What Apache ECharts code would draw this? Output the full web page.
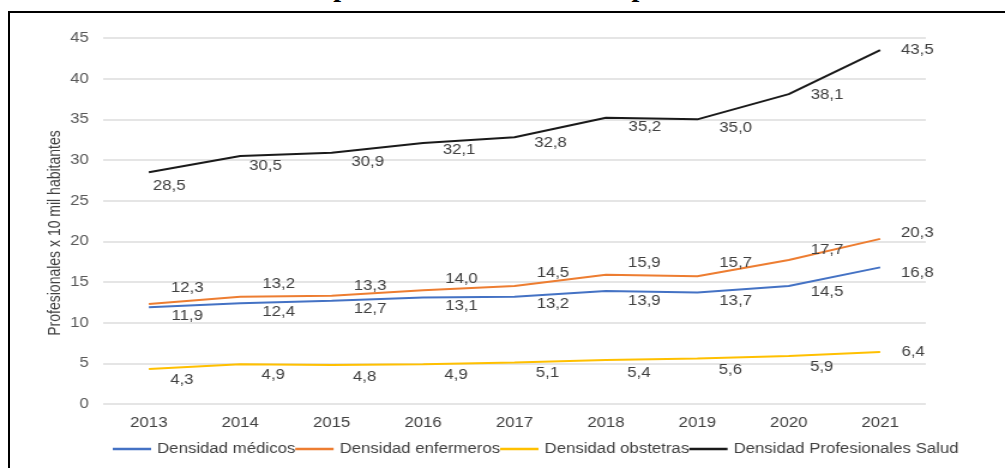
<!DOCTYPE html>
<html>
<head>
<meta charset="utf-8">
<script src="https://cdn.jsdelivr.net/npm/echarts@6/dist/echarts.min.js"></script>
<style>
  html, body { margin: 0; padding: 0; background: #fff; overflow: hidden; width: 1005px; height: 468px; }
  #titulo { position: absolute; left: 14px; top: -27px; font: bold 28px "Liberation Serif"; line-height: 28px; white-space: nowrap; color: #000; }
  #marco { position: absolute; left: 8px; top: 11px; width: 1100px; height: 600px; border-top: 2px solid #000; border-left: 2.5px solid #000; }
  /* el grafico original esta estirado en horizontal */
  #grafico { position: absolute; left: 0; top: 0; width: 838px; height: 468px; transform: scaleX(1.1993); transform-origin: 0 0; }
</style>
</head>
<body>
<div id="titulo">Gráfico N° 4. Densidad de profesionales de la salud por 10 mil habitantes</div>
<div id="marco"></div>
<div id="grafico"></div>
<script>
// datos
const anios = ['2013', '2014', '2015', '2016', '2017', '2018', '2019', '2020', '2021'];
const medicos = [11.9, 12.4, 12.7, 13.1, 13.2, 13.9, 13.7, 14.5, 16.8];
const enfermeros = [12.3, 13.2, 13.3, 14.0, 14.5, 15.9, 15.7, 17.7, 20.3];
const obstetras = [4.3, 4.9, 4.8, 4.9, 5.1, 5.4, 5.6, 5.9, 6.4];
const profesionales = [28.5, 30.5, 30.9, 32.1, 32.8, 35.2, 35.0, 38.1, 43.5];
const nombres = ['Densidad médicos', 'Densidad enfermeros', 'Densidad obstetras', 'Densidad Profesionales Salud'];

// desplazamiento de etiquetas respecto al punto (px sin estirar)
const desplaz = [
  { dx: [32, 32, 32, 32, 32, 32, 32, 32, 31], dy: [9, 9, 8, 9, 8, 10, 9, 6, 6] },
  { dx: [32, 32, 32, 32, 32, 32, 32, 32, 31], dy: [-16, -12, -10, -11, -13, -12, -13, -10, -6] },
  { dx: [27.5, 27.5, 27.5, 27.5, 27.5, 27.5, 27.5, 27.5, 27.5], dy: [11, 11, 12, 11, 11, 13, 12, 11, 0] },
  { dx: [17, 21, 30, 30, 30, 32.5, 32, 32, 31], dy: [14, 10, 9, 7, 6, 9, 9, 1, 0] }
];
const colores = ['#4472C4', '#ED7D31', '#FFC000', '#1a1a1a'];
const fuente = 'Liberation Sans';

function serie(i, valores) {
  return {
    name: nombres[i],
    type: 'line',
    symbol: 'circle',
    symbolSize: 0,
    lineStyle: { color: colores[i], width: 2 },
    itemStyle: { color: colores[i] },
    emphasis: { disabled: true },
    label: {
      show: true,
      position: 'inside',
      fontFamily: fuente,
      fontSize: 14,
      color: '#404040',
      formatter: p => p.value.toFixed(1).replace('.', ',')
    },
    data: valores.map((v, k) => ({ value: v, label: { offset: [desplaz[i].dx[k], desplaz[i].dy[k]] } }))
  };
}

const myChart = echarts.init(document.getElementById('grafico'));
myChart.setOption({
  animation: false,
  grid: { left: 86, right: 66, top: 38, bottom: 64 },
  legend: {
    left: 89,
    top: 437,
    itemWidth: 32,
    itemHeight: 2.5,
    itemGap: 0,
    icon: 'rect',
    textStyle: { fontFamily: fuente, fontSize: 14, color: '#404040' },
    data: nombres
  },
  xAxis: {
    type: 'category',
    data: anios,
    axisLine: { show: false },
    axisTick: { show: false },
    axisLabel: { fontFamily: fuente, fontSize: 14, color: '#404040', margin: 12 }
  },
  yAxis: {
    type: 'value',
    min: 0,
    max: 45,
    interval: 5,
    name: 'Profesionales x 10 mil habitantes',
    nameLocation: 'middle',
    nameGap: 33,
    nameMoveOverlap: false,
    nameTextStyle: { fontFamily: fuente, fontSize: 14, color: '#404040', padding: [0, 24, 0, 0] },
    axisLine: { show: false },
    axisTick: { show: false },
    axisLabel: { fontFamily: fuente, fontSize: 14, color: '#595959', margin: 12 },
    splitLine: { lineStyle: { color: '#dcdcdc', width: 1.5 } }
  },
  series: [
    serie(0, medicos),
    serie(1, enfermeros),
    serie(2, obstetras),
    serie(3, profesionales)
  ]
});
</script>
</body>
</html>
